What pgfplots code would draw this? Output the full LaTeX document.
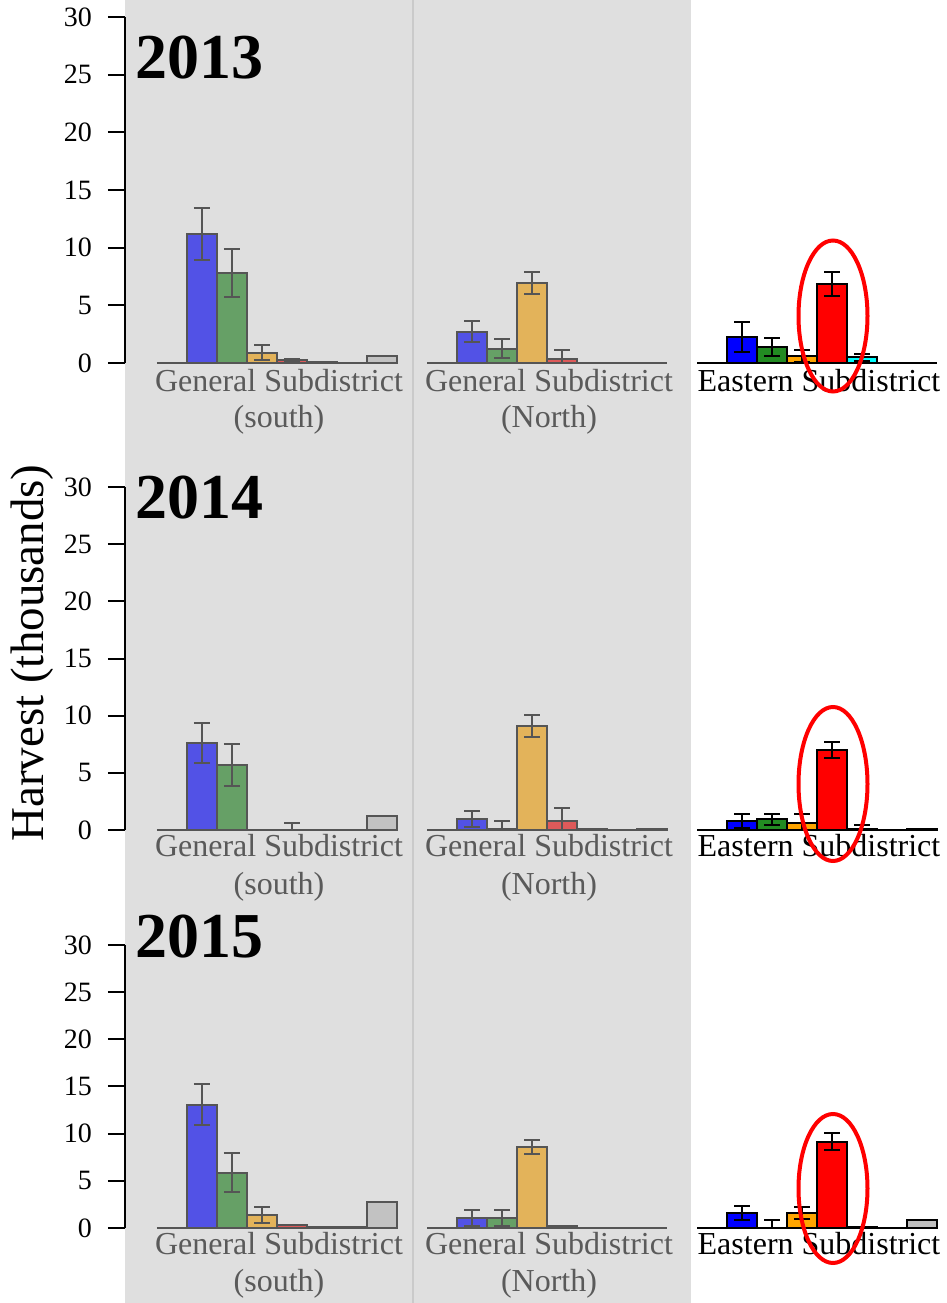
\documentclass[border=0pt]{standalone}
\usepackage{pgfplots}
\pgfplotsset{compat=1.18}
\usepackage{fontspec}
\setmainfont{Liberation Serif}
\definecolor{panel}{HTML}{DFDFDF}
\definecolor{divider}{HTML}{CACACA}
\definecolor{gline}{HTML}{555555}
\definecolor{gtext}{HTML}{5A5A5A}
\definecolor{gblue}{HTML}{5252E6}
\definecolor{ggreen}{HTML}{66A066}
\definecolor{gorange}{HTML}{E3B35A}
\definecolor{gred}{HTML}{DE5A5A}
\definecolor{gcyan}{HTML}{7FD6D6}
\definecolor{ggray}{HTML}{C2C2C2}
\definecolor{eblue}{HTML}{0000FF}
\definecolor{egreen}{HTML}{228B22}
\definecolor{eorange}{HTML}{FFA500}
\definecolor{ered}{HTML}{FF0000}
\definecolor{ecyan}{HTML}{00FFFF}
\definecolor{egray}{HTML}{BEBEBE}

\pgfplotsset{
  rowaxis/.style={
    scale only axis, anchor=south west, width=411pt,
    xmin=-1.0667, xmax=26.3333, ymin=0, ymax=30,
    axis x line=none, axis y line*=left,
    ytick={0,5,10,15,20,25,30},
    tick align=outside, major tick length=8.5pt,
    every tick/.style={black, line width=1pt},
    y axis line style={black, line width=1pt},
    yticklabel style={font=\fontsize{14}{16}\selectfont, black, xshift=-4.5pt},
    /pgf/number format/assume math mode=true,
    clip=false,
  },
  gbarn/.style={ybar, bar width=15pt, bar shift=0pt, fill=#1, draw=gline, line width=1pt},
  ebarn/.style={ybar, bar width=15pt, bar shift=0pt, fill=#1, draw=black, line width=1pt},
  gbar/.style={gbarn=#1,
    error bars/y dir=both, error bars/y explicit,
    error bars/error mark=|,
    error bars/error bar style={draw=gline, line width=1pt},
    error bars/error mark options={draw=gline, line width=1pt, mark size=4pt}},
  ebar/.style={ebarn=#1,
    error bars/y dir=both, error bars/y explicit,
    error bars/error mark=|,
    error bars/error bar style={draw=black, line width=1pt},
    error bars/error mark options={draw=black, line width=1pt, mark size=4pt}},
  gbase/.style={draw=gline, line width=1.3pt, no marks},
  ebase/.style={draw=black, line width=1.3pt, no marks},
}

\begin{document}
\begin{tikzpicture}
\begin{scope}[x=0.5pt,y=0.5pt]
\useasboundingbox (0,0) rectangle (947,1303);
\fill[panel] (125,0) rectangle (691,1303);
\draw[divider, line width=1pt] (413,0) -- (413,1303);
\end{scope}

% ---------------- 2013 ----------------
\begin{axis}[rowaxis, at={(62.5pt,470pt)}, height=173pt]
\addplot[gbase] coordinates {(0,0) (8,0)};
\addplot[gbase] coordinates {(9,0) (17,0)};
\addplot[ebase] coordinates {(18,0) (26,0)};
\addplot[gbar=gblue] coordinates {(1.5,11.2) +- (0,2.25) (10.5,2.7) +- (0,0.9)};
\addplot[gbar=ggreen] coordinates {(2.5,7.8) +- (0,2.1) (11.5,1.25) +- (0,0.85)};
\addplot[gbar=gorange] coordinates {(3.5,0.87) +- (0,0.65) (12.5,6.95) +- (0,0.93)};
\addplot[gbar=gred] coordinates {(4.5,0.25) +- (0,0.08) (13.5,0.32) += (0,0.8) -= (0,0.32)};
\addplot[gbarn=gcyan] coordinates {(5.5,0.1)};
\addplot[gbarn=ggray] coordinates {(7.5,0.63)};
\addplot[ebar=eblue] coordinates {(19.5,2.23) +- (0,1.3)};
\addplot[ebar=egreen] coordinates {(20.5,1.41) +- (0,0.8)};
\addplot[ebar=eorange] coordinates {(21.5,0.6) +- (0,0.5)};
\addplot[ebar=ered] coordinates {(22.5,6.85) +- (0,1.05)};
\addplot[ebar=ecyan] coordinates {(23.5,0.48) +- (0,0.3)};
\end{axis}

% ---------------- 2014 ----------------
\begin{axis}[rowaxis, at={(62.5pt,236.5pt)}, height=171.5pt]
\addplot[gbase] coordinates {(0,0) (8,0)};
\addplot[gbase] coordinates {(9,0) (17,0)};
\addplot[ebase] coordinates {(18,0) (26,0)};
\addplot[gbar=gblue] coordinates {(1.5,7.64) +- (0,1.75) (10.5,0.96) +- (0,0.7)};
\addplot[gbar=ggreen] coordinates {(2.5,5.7) +- (0,1.85) (11.5,0.08) += (0,0.7) -= (0,0.08)};
\addplot[gbar=gorange] coordinates {(12.5,9.1) +- (0,0.95)};
\addplot[gbar=gred] coordinates {(4.5,0) += (0,0.6) -= (0,0) (13.5,0.8) += (0,1.1) -= (0,0.8)};
\addplot[gbarn=gcyan] coordinates {(14.5,0.1)};
\addplot[gbarn=ggray] coordinates {(7.5,1.25) (16.5,0.1)};
\addplot[ebar=eblue] coordinates {(19.5,0.8) +- (0,0.6)};
\addplot[ebar=egreen] coordinates {(20.5,0.93) +- (0,0.47)};
\addplot[ebar=eorange] coordinates {(21.5,0.58) += (0,0.8) -= (0,0.58)};
\addplot[ebar=ered] coordinates {(22.5,7.0) +- (0,0.67)};
\addplot[ebar=ecyan] coordinates {(23.5,0.05) += (0,0.4) -= (0,0.05)};
\addplot[ebarn=egray] coordinates {(25.5,0.1)};
\end{axis}

% ---------------- 2015 ----------------
\begin{axis}[rowaxis, at={(62.5pt,37.5pt)}, height=141.5pt]
\addplot[gbase] coordinates {(0,0) (8,0)};
\addplot[gbase] coordinates {(9,0) (17,0)};
\addplot[ebase] coordinates {(18,0) (26,0)};
\addplot[gbar=gblue] coordinates {(1.5,13.07) +- (0,2.15) (10.5,1.06) +- (0,0.9)};
\addplot[gbar=ggreen] coordinates {(2.5,5.86) +- (0,2.05) (11.5,1.06) +- (0,0.85)};
\addplot[gbar=gorange] coordinates {(3.5,1.41) +- (0,0.85) (12.5,8.62) +- (0,0.75)};
\addplot[gbarn=gred] coordinates {(4.5,0.3) (13.5,0.25)};
\addplot[gbarn=gcyan] coordinates {(5.5,0.15)};
\addplot[gbarn=ggray] coordinates {(6.5,0.1)};
\addplot[gbarn=ggray] coordinates {(7.5,2.79)};
\addplot[ebar=eblue] coordinates {(19.5,1.59) +- (0,0.75)};
\addplot[ebar=egreen] coordinates {(20.5,0) += (0,0.85) -= (0,0)};
\addplot[ebar=eorange] coordinates {(21.5,1.59) +- (0,0.65)};
\addplot[ebar=ered] coordinates {(22.5,9.15) +- (0,0.9)};
\addplot[ebarn=ecyan] coordinates {(23.5,0.15)};
\addplot[ebarn=egray] coordinates {(25.5,0.85)};
\end{axis}

\begin{scope}[x=0.5pt,y=0.5pt]
% year titles
\node[anchor=base west, inner sep=0pt, font=\bfseries\fontsize{32}{36}\selectfont] at (135,1224) {2013};
\node[anchor=base west, inner sep=0pt, font=\bfseries\fontsize{32}{36}\selectfont] at (135,784) {2014};
\node[anchor=base west, inner sep=0pt, font=\bfseries\fontsize{32}{36}\selectfont] at (135,345) {2015};
% y label
\node[rotate=90, font=\fontsize{23.5}{26}\selectfont] at (32,650) {Harvest (thousands)};
% group labels
\foreach \b/\c in {911/875, 446/408, 48/11}{
  \node[anchor=base, inner sep=0pt, text=gtext, font=\fontsize{16}{18}\selectfont] at (279,\b) {General Subdistrict};
  \node[anchor=base, inner sep=0pt, text=gtext, font=\fontsize{16}{18}\selectfont] at (279,\c) {(south)};
  \node[anchor=base, inner sep=0pt, text=gtext, font=\fontsize{16}{18}\selectfont] at (549,\b) {General Subdistrict};
  \node[anchor=base, inner sep=0pt, text=gtext, font=\fontsize{16}{18}\selectfont] at (549,\c) {(North)};
  \node[anchor=base, inner sep=0pt, text=black, font=\fontsize{16}{18}\selectfont] at (819,\b) {Eastern Subdistrict};
}
% red ellipses
\draw[ered, line width=2pt] (833,987) ellipse [x radius=17.25pt, y radius=37.75pt];
\draw[ered, line width=2pt] (833,519) ellipse [x radius=17.25pt, y radius=38.5pt];
\draw[ered, line width=2pt] (833,114.5) ellipse [x radius=17.25pt, y radius=37.25pt];
\end{scope}
\end{tikzpicture}
\end{document}
